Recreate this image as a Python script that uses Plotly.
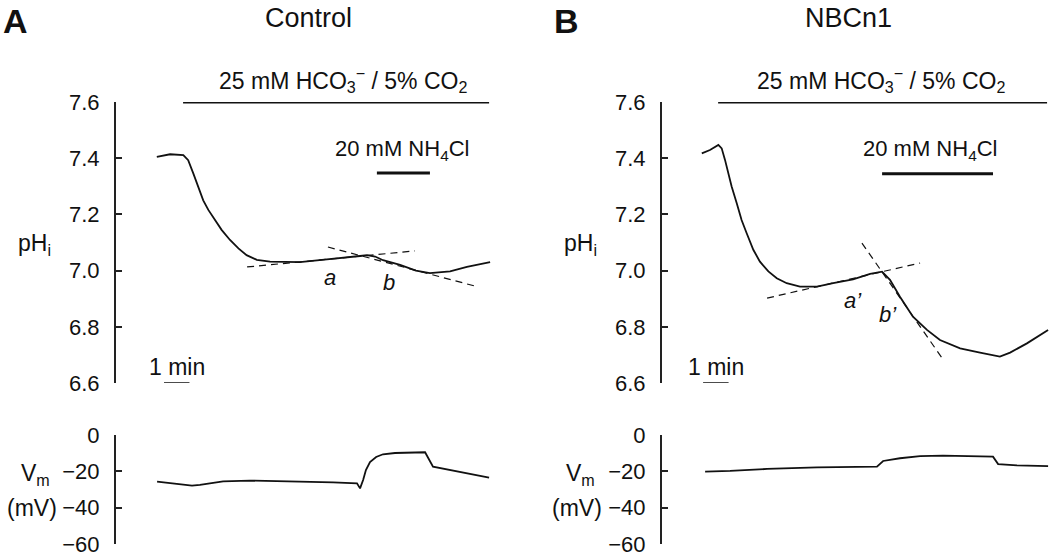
import plotly.graph_objects as go

W, H = 1050, 556

# ---------------- data (time in min, pHi, Vm in mV) ----------------
# Panel A: Control
tA_ph = [1.64, 2.16, 2.68, 2.87, 3.07, 3.27, 3.46, 3.66, 3.92, 4.18, 4.51, 4.84, 5.16,
         5.56, 6.08, 6.39, 7.25, 8.31, 9.0, 9.61, 9.88, 10.2, 10.51, 11.18, 11.8, 12.35,
         13.14, 13.8, 14.71]
phA = [7.405, 7.414, 7.411, 7.393, 7.346, 7.298, 7.25, 7.216, 7.18, 7.145, 7.109,
       7.079, 7.055, 7.038, 7.032, 7.032, 7.03, 7.04, 7.045, 7.052, 7.055, 7.05, 7.037,
       7.02, 7.0, 6.991, 6.997, 7.013, 7.03]
tA_vm = [1.65, 3.02, 3.33, 4.24, 5.29, 7.25, 8.55, 9.49, 9.61, 9.73, 9.84, 10.0,
         10.24, 10.51, 10.98, 12.16, 12.27, 12.47, 14.67]
vmA = [-25.7, -27.9, -27.5, -25.5, -25.1, -25.5, -26.1, -26.6, -29.4, -24.8, -19.3,
       -14.9, -12.1, -10.6, -9.9, -9.5, -12.1, -17.4, -23.5]
slopeA_a_t = [5.18, 11.76]
slopeA_a_ph = [7.013, 7.07]
slopeA_b_t = [8.35, 14.24]
slopeA_b_ph = [7.084, 6.942]
hco3A = [2.67, 14.67]
nh4A = [10.27, 12.35]

# Panel B: NBCn1
tB_ph = [1.6, 1.92, 2.25, 2.38, 2.51, 2.64, 2.77, 2.97, 3.16, 3.36, 3.62, 3.88, 4.21,
         4.54, 4.93, 5.45, 6.12, 6.75, 7.53, 8.2, 8.67, 8.98, 9.37, 9.88, 10.43, 10.94,
         11.73, 12.51, 13.29, 13.69, 14.35, 15.18]
phB = [7.417, 7.429, 7.447, 7.435, 7.394, 7.346, 7.299, 7.24, 7.18, 7.133, 7.074,
       7.032, 6.997, 6.973, 6.955, 6.943, 6.943, 6.955, 6.969, 6.988, 6.996, 6.967,
       6.907, 6.836, 6.789, 6.753, 6.723, 6.708, 6.694, 6.708, 6.741, 6.789]
tB_vm = [1.73, 2.71, 4.16, 6.12, 8.47, 8.71, 9.37, 10.16, 11.06, 13.02, 13.22, 13.96, 15.18]
vmB = [-20.2, -19.8, -18.7, -17.8, -17.4, -14.3, -12.8, -11.6, -11.4, -11.9, -16.0,
       -16.7, -17.1]
slopeB_a_t = [4.16, 10.16]
slopeB_a_ph = [6.902, 7.027]
slopeB_b_t = [7.88, 11.02]
slopeB_b_ph = [7.098, 6.689]
hco3B = [2.24, 15.14]
nh4B = [8.67, 13.02]

scalebarA = [1.92, 2.92]
scalebarB = [1.65, 2.65]

ph_ticks = [6.6, 6.8, 7.0, 7.2, 7.4, 7.6]
vm_ticks = [-60, -40, -20, 0]

# ---------------- figure ----------------
FONT = "Liberation Sans, Arial, sans-serif"
INK = "#111111"

def px(x):
    return x / W

def py(y):
    return 1 - y / H

fig = go.Figure()

line_w = 1.8
fig.add_trace(go.Scatter(x=tA_ph, y=phA, mode="lines", line=dict(color=INK, width=line_w),
                         xaxis="x", yaxis="y", showlegend=False))
fig.add_trace(go.Scatter(x=tA_vm, y=vmA, mode="lines", line=dict(color=INK, width=line_w),
                         xaxis="x2", yaxis="y2", showlegend=False))
fig.add_trace(go.Scatter(x=tB_ph, y=phB, mode="lines", line=dict(color=INK, width=line_w),
                         xaxis="x3", yaxis="y3", showlegend=False))
fig.add_trace(go.Scatter(x=tB_vm, y=vmB, mode="lines", line=dict(color=INK, width=line_w),
                         xaxis="x4", yaxis="y4", showlegend=False))

dash = dict(color=INK, width=1.2, dash="7px,5px")
for xs, ys, xa, ya in [(slopeA_a_t, slopeA_a_ph, "x", "y"), (slopeA_b_t, slopeA_b_ph, "x", "y"),
                       (slopeB_a_t, slopeB_a_ph, "x3", "y3"), (slopeB_b_t, slopeB_b_ph, "x3", "y3")]:
    fig.add_trace(go.Scatter(x=xs, y=ys, mode="lines", line=dash, xaxis=xa, yaxis=ya,
                             showlegend=False))

# axes
xA_dom = [px(115), px(500)]
xB_dom = [px(661), 1.0]
xA_rng = [0, (500 - 115) / 25.5]
xB_rng = [0, (1050 - 661) / 25.5]
ph_dom = [py(383), py(102)]
vm_dom = [py(544), py(435)]

def xax(dom, rng, anchor):
    return dict(domain=dom, range=rng, visible=False, anchor=anchor, automargin=False)

def yax(dom, rng, ticks, pos, fmt):
    return dict(domain=dom, range=rng, anchor="free", position=pos, automargin=False,
                showgrid=False, zeroline=False,
                showline=True, linecolor="#222222", linewidth=2,
                ticks="inside", ticklen=6, tickwidth=1.5, tickcolor="#222222",
                tickvals=ticks, tickformat=fmt, ticklabelstandoff=10,
                ticklabeloverflow="allow",
                tickfont=dict(family=FONT, size=22, color=INK))

fig.update_layout(
    template="none",
    width=W, height=H, margin=dict(l=0, r=0, t=0, b=0, pad=0, autoexpand=False),
    paper_bgcolor="white", plot_bgcolor="rgba(0,0,0,0)", showlegend=False,
    xaxis=xax(xA_dom, xA_rng, "y"),
    xaxis2=xax(xA_dom, xA_rng, "y2"),
    xaxis3=xax(xB_dom, xB_rng, "y3"),
    xaxis4=xax(xB_dom, xB_rng, "y4"),
    yaxis=yax(ph_dom, [6.6, 7.6], ph_ticks, xA_dom[0], ".1f"),
    yaxis2=yax(vm_dom, [-60, 0], vm_ticks, xA_dom[0], "d"),
    yaxis3=yax(ph_dom, [6.6, 7.6], ph_ticks, xB_dom[0], ".1f"),
    yaxis4=yax(vm_dom, [-60, 0], vm_ticks, xB_dom[0], "d"),
)

# application bars & scale bars
shapes = []
for (t0, t1), xr, yr, yv in [(hco3A, "x", "y", 7.6), (nh4A, "x", "y", 7.347),
                              (hco3B, "x3", "y3", 7.6), (nh4B, "x3", "y3", 7.345)]:
    shapes.append(dict(type="line", xref=xr, yref=yr, x0=t0, x1=t1, y0=yv, y1=yv,
                       line=dict(color=INK, width=3)))
for (t0, t1), xr, yr in [(scalebarA, "x", "y"), (scalebarB, "x3", "y3")]:
    shapes.append(dict(type="line", xref=xr, yref=yr, x0=t0, x1=t1, y0=6.6, y1=6.6,
                       line=dict(color=INK, width=1.5)))
fig.update_layout(shapes=shapes)

# annotations
def ann(text, x, y, size, bold=False, italic=False, xanchor="center", yanchor="middle"):
    t = text
    if bold:
        t = "<b>" + t + "</b>"
    if italic:
        t = "<i>" + t + "</i>"
    return dict(text=t, x=px(x), y=py(y), xref="paper", yref="paper", showarrow=False,
                xanchor=xanchor, yanchor=yanchor, font=dict(family=FONT, size=size, color=INK))

hco3_txt = "25 mM HCO<sub>3</sub><sup>−</sup> / 5% CO<sub>2</sub>"
nh4_txt = "20 mM NH<sub>4</sub>Cl"
anns = [
    ann("A", 15, 0, 34, bold=True, yanchor="top"),
    ann("Control", 308, 18, 27),
    ann("B", 566, 0, 34, bold=True, yanchor="top"),
    ann("NBCn1", 848, 18, 27),
    ann(hco3_txt, 343, 80, 23),
    ann(hco3_txt, 881, 80, 23),
    ann(nh4_txt, 402, 150, 22),
    ann(nh4_txt, 930, 150, 22),
    ann("pH<sub>i</sub>", 34, 245, 23),
    ann("pH<sub>i</sub>", 580, 245, 23),
    ann("V<sub>m</sub>", 35, 474, 23),
    ann("(mV)", 32, 508, 23),
    ann("V<sub>m</sub>", 580, 474, 23),
    ann("(mV)", 577, 508, 23),
    ann("1 min", 177, 367, 23),
    ann("1 min", 716, 367, 23),
    ann("a", 330, 277, 22, italic=True),
    ann("b", 389, 282, 22, italic=True),
    ann("a’", 853, 300, 22, italic=True),
    ann("b’", 888, 314, 22, italic=True),
]
fig.update_layout(annotations=anns)

fig.write_html("out.html", config={"displayModeBar": False},
               post_script="document.body.style.margin='0px';document.body.style.overflow='hidden';")
